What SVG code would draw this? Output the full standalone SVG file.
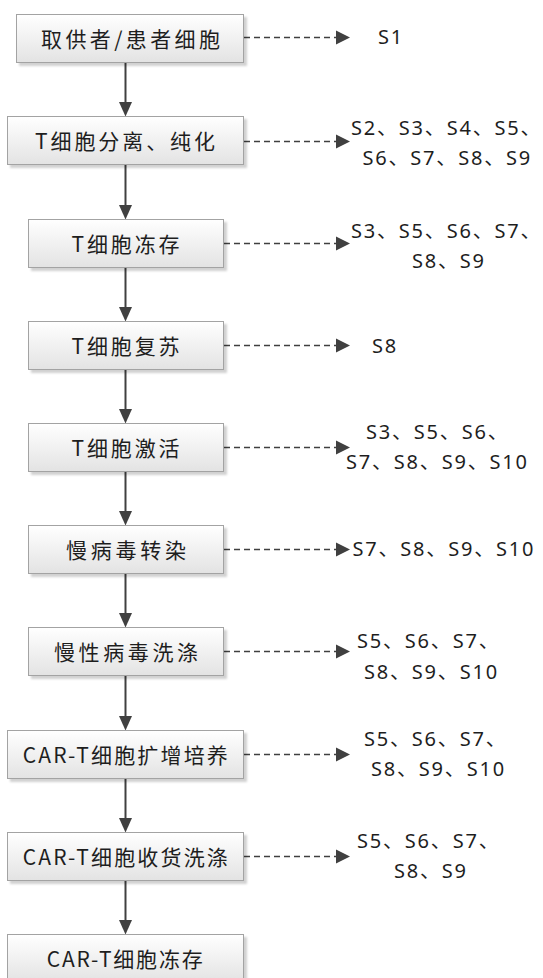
<svg xmlns="http://www.w3.org/2000/svg" width="543" height="978" viewBox="0 0 543 978">
<style>
.box{fill:url(#g);stroke:#a3a3a3;stroke-width:1;filter:url(#sh)}
.bt{font-family:"Noto Sans CJK SC","Noto Sans",sans-serif;font-size:21px;fill:#1e1e1e;text-anchor:middle}
.lb{font-family:"Noto Sans","Noto Sans CJK SC",sans-serif;font-size:20px;fill:#1e1e1e;letter-spacing:1.8px}
.solid{stroke:#404040;stroke-width:2;fill:none}
.dash{stroke:#404040;stroke-width:1.5;stroke-dasharray:6 4;fill:none}
.head{fill:#404040}
</style>
<defs>
<linearGradient id="g" x1="0" y1="0" x2="0" y2="1">
<stop offset="0" stop-color="#ffffff"/>
<stop offset="1" stop-color="#e3e3e3"/>
</linearGradient>
<filter id="sh" x="-10%" y="-20%" width="130%" height="150%">
<feDropShadow dx="3" dy="3" stdDeviation="1" flood-color="#000" flood-opacity="0.18"/>
</filter>
</defs>
<rect width="543" height="978" fill="#ffffff"/>

<g id="connectors">
<line class="solid" x1="125.5" y1="62.5" x2="125.5" y2="104"/><polygon class="head" points="119,102 132,102 125.5,116.5"/>
<line class="solid" x1="125.5" y1="164.5" x2="125.5" y2="207"/><polygon class="head" points="119,205 132,205 125.5,219.5"/>
<line class="solid" x1="125.5" y1="267.5" x2="125.5" y2="309"/><polygon class="head" points="119,307 132,307 125.5,321.5"/>
<line class="solid" x1="125.5" y1="369.5" x2="125.5" y2="411"/><polygon class="head" points="119,409 132,409 125.5,423.5"/>
<line class="solid" x1="125.5" y1="471.5" x2="125.5" y2="513"/><polygon class="head" points="119,511 132,511 125.5,525.5"/>
<line class="solid" x1="125.5" y1="573.5" x2="125.5" y2="615"/><polygon class="head" points="119,613 132,613 125.5,627.5"/>
<line class="solid" x1="125.5" y1="675.5" x2="125.5" y2="718"/><polygon class="head" points="119,716 132,716 125.5,730.5"/>
<line class="solid" x1="125.5" y1="778.5" x2="125.5" y2="820"/><polygon class="head" points="119,818 132,818 125.5,832.5"/>
<line class="solid" x1="125.5" y1="880.5" x2="125.5" y2="922"/><polygon class="head" points="119,920 132,920 125.5,934.5"/>

<line class="dash" x1="244" y1="37.5" x2="338" y2="37.5"/><polygon class="head" points="336,30.5 350,37.5 336,44.5"/>
<line class="dash" x1="244" y1="141.5" x2="338" y2="141.5"/><polygon class="head" points="336,134.5 350,141.5 336,148.5"/>
<line class="dash" x1="224" y1="243.5" x2="338" y2="243.5"/><polygon class="head" points="336,236.5 350,243.5 336,250.5"/>
<line class="dash" x1="224" y1="345.5" x2="338" y2="345.5"/><polygon class="head" points="336,338.5 350,345.5 336,352.5"/>
<line class="dash" x1="224" y1="447.5" x2="338" y2="447.5"/><polygon class="head" points="336,440.5 350,447.5 336,454.5"/>
<line class="dash" x1="224" y1="549.5" x2="338" y2="549.5"/><polygon class="head" points="336,542.5 350,549.5 336,556.5"/>
<line class="dash" x1="224" y1="651.5" x2="338" y2="651.5"/><polygon class="head" points="336,644.5 350,651.5 336,658.5"/>
<line class="dash" x1="244" y1="754.5" x2="338" y2="754.5"/><polygon class="head" points="336,747.5 350,754.5 336,761.5"/>
<line class="dash" x1="244" y1="856.5" x2="338" y2="856.5"/><polygon class="head" points="336,849.5 350,856.5 336,863.5"/>
</g>

<g id="n1"><rect class="box" x="16.5" y="14.5" width="227" height="48"/><text class="bt" x="130.5" y="46.5" textLength="179" lengthAdjust="spacing">取供者/患者细胞</text></g>
<g id="n2"><rect class="box" x="7.5" y="116.5" width="236" height="48"/><text class="bt" x="125" y="148.5" textLength="180" lengthAdjust="spacing">T细胞分离、纯化</text></g>
<g id="n3"><rect class="box" x="28.5" y="219.5" width="195" height="48"/><text class="bt" x="125.5" y="251.5" textLength="108" lengthAdjust="spacing">T细胞冻存</text></g>
<g id="n4"><rect class="box" x="28.5" y="321.5" width="195" height="48"/><text class="bt" x="125.5" y="353.5" textLength="108" lengthAdjust="spacing">T细胞复苏</text></g>
<g id="n5"><rect class="box" x="28.5" y="423.5" width="195" height="48"/><text class="bt" x="125.5" y="455.5" textLength="108" lengthAdjust="spacing">T细胞激活</text></g>
<g id="n6"><rect class="box" x="28.5" y="525.5" width="195" height="48"/><text class="bt" x="126" y="557.5" textLength="120" lengthAdjust="spacing">慢病毒转染</text></g>
<g id="n7"><rect class="box" x="28.5" y="627.5" width="195" height="48"/><text class="bt" x="126" y="659.5" textLength="144" lengthAdjust="spacing">慢性病毒洗涤</text></g>
<g id="n8"><rect class="box" x="7.5" y="730.5" width="236" height="48"/><text class="bt" x="125.3" y="762.5" textLength="205" lengthAdjust="spacing">CAR-T细胞扩增培养</text></g>
<g id="n9"><rect class="box" x="7.5" y="832.5" width="236" height="48"/><text class="bt" x="125.3" y="864.5" textLength="205" lengthAdjust="spacing">CAR-T细胞收货洗涤</text></g>
<g id="n10"><rect class="box" x="7.5" y="934.5" width="236" height="48"/><text class="bt" x="124.7" y="966.5" textLength="156" lengthAdjust="spacing">CAR-T细胞冻存</text></g>

<g id="labels">
<text class="lb" x="378" y="44">S1</text>
<text class="lb" x="351" y="135">S2、S3、S4、S5、</text>
<text class="lb" x="362.5" y="165">S6、S7、S8、S9</text>
<text class="lb" x="351" y="238">S3、S5、S6、S7、</text>
<text class="lb" x="412" y="268">S8、S9</text>
<text class="lb" x="372" y="353">S8</text>
<text class="lb" x="366" y="439">S3、S5、S6、</text>
<text class="lb" x="346" y="469">S7、S8、S9、S10</text>
<text class="lb" x="352.5" y="556">S7、S8、S9、S10</text>
<text class="lb" x="357" y="648">S5、S6、S7、</text>
<text class="lb" x="364" y="679">S8、S9、S10</text>
<text class="lb" x="364" y="746">S5、S6、S7、</text>
<text class="lb" x="371" y="776">S8、S9、S10</text>
<text class="lb" x="357" y="848">S5、S6、S7、</text>
<text class="lb" x="394" y="878">S8、S9</text>
</g>
</svg>
